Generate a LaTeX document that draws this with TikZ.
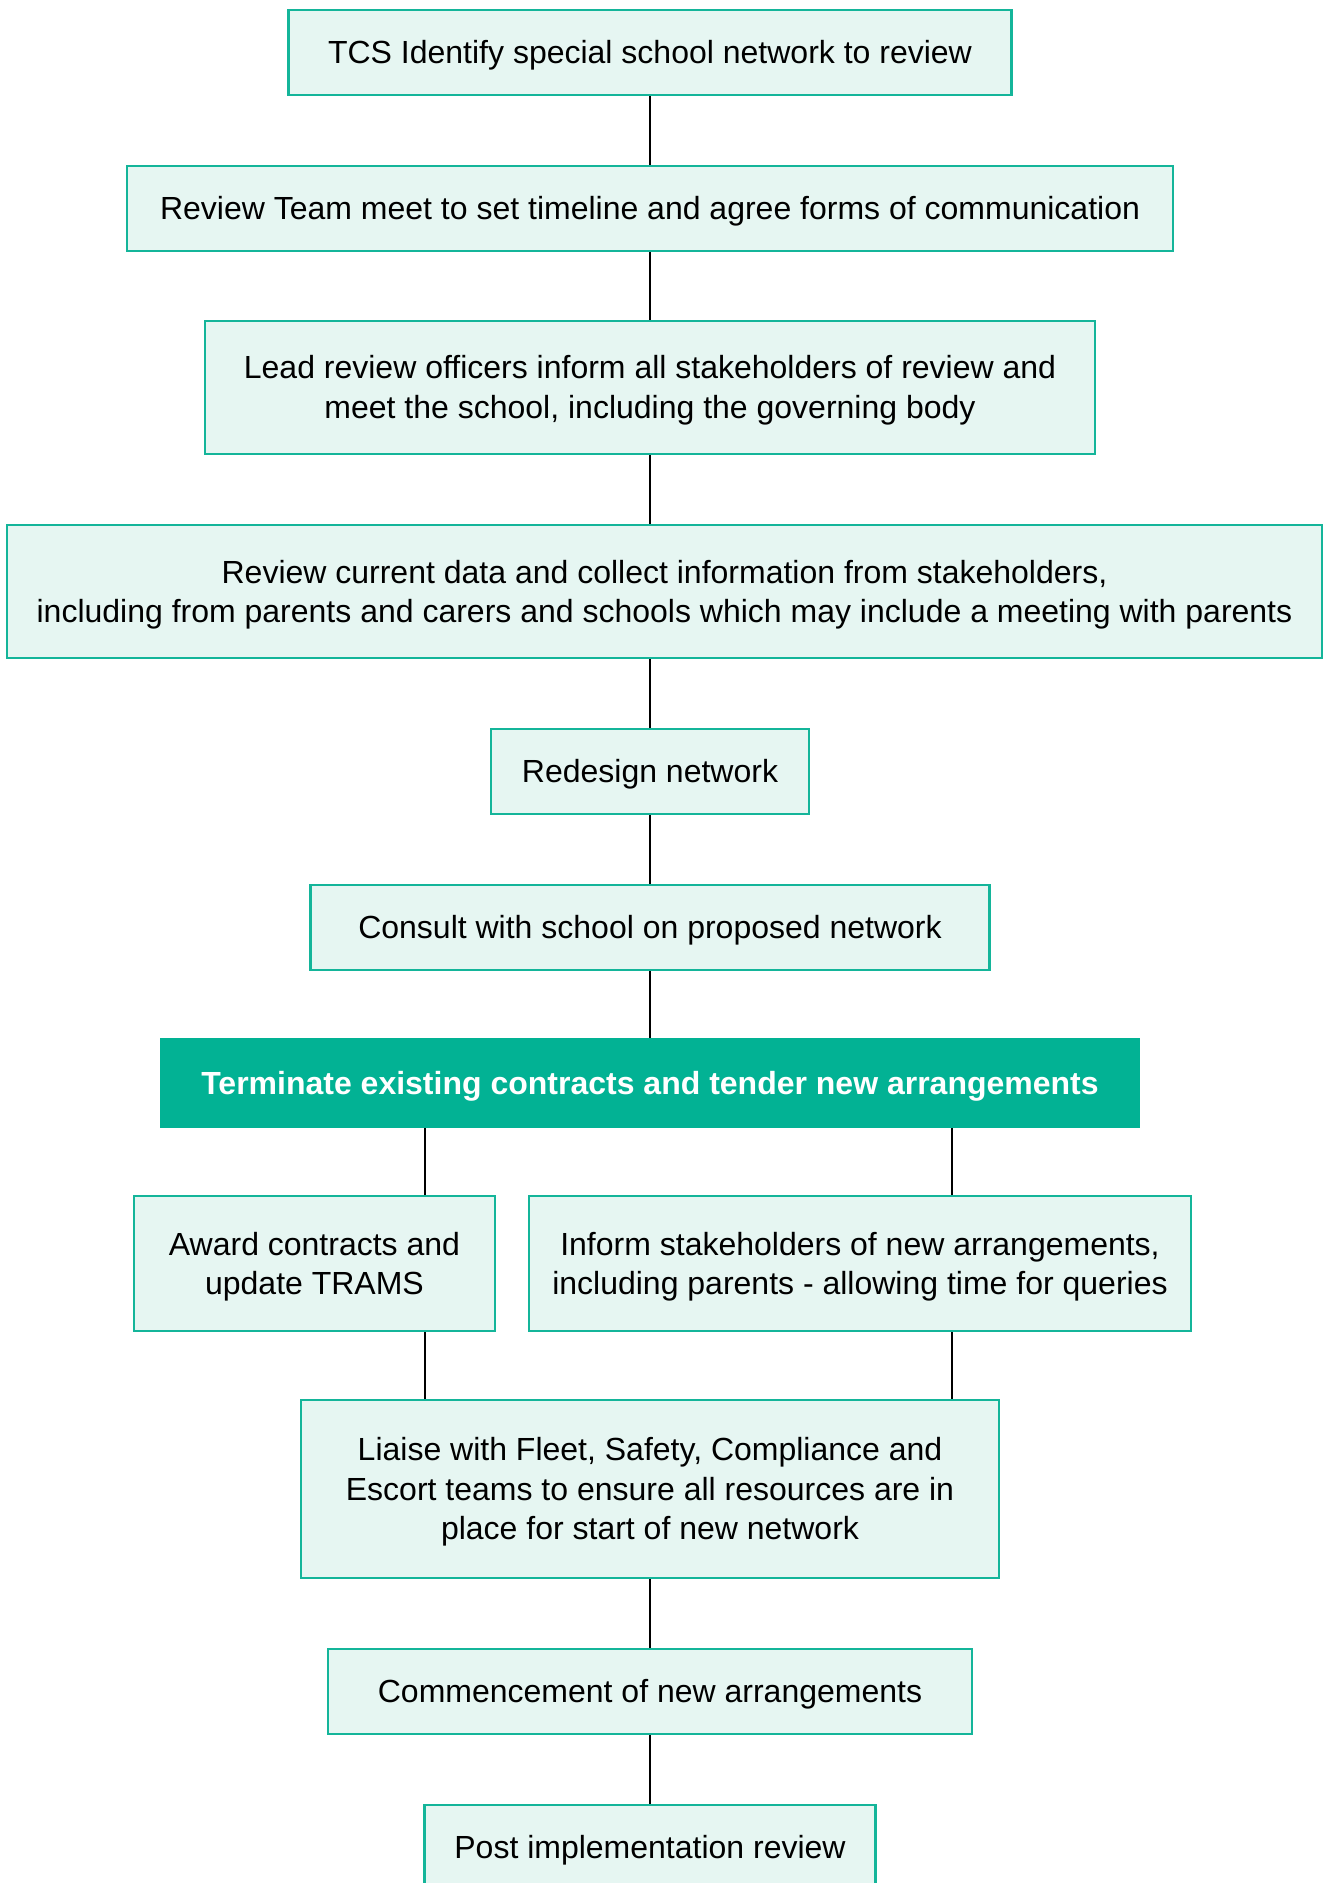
\documentclass[tikz,border=0pt]{standalone}
\usepackage{fontspec}
\setmainfont{Liberation Sans}
\definecolor{tealline}{HTML}{14B59A}
\definecolor{tealfill}{HTML}{E6F6F2}
\definecolor{tealdark}{HTML}{02B294}
\tikzset{
  flowbox/.style={draw=tealline, fill=tealfill, line width=1.3pt, align=center,
    inner sep=0pt, font=\fontsize{16}{19.6}\selectfont, text depth=3.4pt, text height=14.5pt},
  twolines/.style={text height=34.1pt},
  threelines/.style={text height=53.7pt},
  keybox/.style={flowbox, draw=tealdark, fill=tealdark, text=white,
    font=\fontsize{16}{19.6}\selectfont\bfseries},
  link/.style={draw=black, line width=0.9pt}
}
\begin{document}
\begin{tikzpicture}[x=0.5pt,y=-0.5pt]
      \useasboundingbox (0,0) rectangle (1323,1883);
      \node[flowbox, minimum width=361.5pt, minimum height=42.5pt] (tcs) at (650,52.5)
        {TCS Identify special school network to review};
      \node[flowbox, minimum width=523pt, minimum height=42.5pt] (team) at (650,208.5)
        {Review Team meet to set timeline and agree forms of communication};
      \node[flowbox, twolines, minimum width=445pt, minimum height=66.5pt] (lead) at (650,387.5)
        {Lead review officers inform all stakeholders of review and\\meet the school, including the governing body};
      \node[flowbox, twolines, minimum width=657.5pt, minimum height=66.5pt] (data) at (664.5,591.5)
        {Review current data and collect information from stakeholders,\\including from parents and carers and schools which may include a meeting with parents};
      \node[flowbox, minimum width=159pt, minimum height=42.5pt] (redesign) at (650,771.5)
        {Redesign network};
      \node[flowbox, minimum width=339.5pt, minimum height=42.5pt] (consult) at (650,927.5)
        {Consult with school on proposed network};
      \node[keybox, minimum width=489pt, minimum height=44pt] (term) at (650,1083)
        {Terminate existing contracts and tender new arrangements};
      \node[flowbox, twolines, minimum width=180.5pt, minimum height=67.5pt] (award) at (314.5,1263.5)
        {Award contracts and\\update TRAMS};
      \node[flowbox, twolines, minimum width=331pt, minimum height=67.5pt] (inform) at (860,1263.5)
        {Inform stakeholders of new arrangements,\\including parents - allowing time for queries};
      \node[flowbox, threelines, minimum width=349pt, minimum height=89pt] (liaise) at (650,1489)
        {Liaise with Fleet, Safety, Compliance and\\Escort teams to ensure all resources are in\\place for start of new network};
      \node[flowbox, minimum width=322pt, minimum height=42.5pt] (commence) at (650,1691.5)
        {Commencement of new arrangements};
      \node[flowbox, minimum width=225.5pt, minimum height=42.5pt] (post) at (650,1847.5)
        {Post implementation review};
      \coordinate (lbranch) at (425,0);
      \coordinate (rbranch) at (952,0);
      \begin{scope}[link]
        \draw (tcs.south) to (team.north);
        \draw (team.south) to (lead.north);
        \draw (lead.south) to (lead.south |- data.north);
        \draw (data.south -| redesign.north) to (redesign.north);
        \draw (redesign.south) to (consult.north);
        \draw (consult.south) to (term.north);
        \draw (term.south -| lbranch) to (award.north -| lbranch);
        \draw (term.south -| rbranch) to (inform.north -| rbranch);
        \draw (award.south -| lbranch) to (liaise.north -| lbranch);
        \draw (inform.south -| rbranch) to (liaise.north -| rbranch);
        \draw (liaise.south) to (commence.north);
        \draw (commence.south) to (post.north);
      \end{scope}
    \end{tikzpicture}
\end{document}
